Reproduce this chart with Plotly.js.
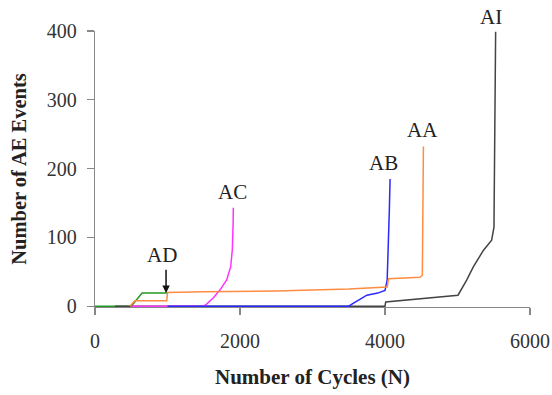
<!DOCTYPE html>
<html><head><meta charset="utf-8">
<script src="https://cdn.plot.ly/plotly-3.0.1.min.js"></script>
<style>html,body{margin:0;padding:0;background:#fff;}#chart{width:552px;height:395px;}</style>
</head><body><div id="chart"></div>
<script>
// Cycles (N) and cumulative AE event counts
const adX = [0, 500, 650, 1000];
const adY = [0, 0, 19, 19];

const aiX = [275, 4000, 4010, 4500, 5007, 5126, 5218, 5356, 5471, 5503, 5517, 5526];
const aiY = [0, 0, 6, 11, 16, 38, 57, 81, 96, 115, 290, 399];

const acX = [500, 1500, 1540, 1630, 1720, 1816, 1871, 1894, 1905, 1908];
const acY = [0, 0, 3, 12, 23, 38, 57, 82, 120, 143];

const abX = [1000, 3500, 3560, 3650, 3750, 3900, 4000, 4030, 4045, 4060, 4070];
const abY = [0, 0, 4, 10, 16, 19, 23, 38, 80, 140, 185];

const aaX = [480, 550, 990, 1000, 1500, 2500, 3500, 3950, 4030, 4050, 4480, 4515, 4520, 4525, 4530];
const aaY = [0, 8, 8, 20, 21, 22, 25, 27, 28, 40, 42, 45, 100, 150, 232];

const seriesNames = ['AD', 'AI', 'AC', 'AB', 'AA'];
const seriesColors = ['#229922', '#444444', '#ff33ff', '#2a2aff', '#ff8c42'];

// label anchors (cycles, events)
const labelText = ['AI', 'AA', 'AB', 'AC', 'AD'];
const labelX = [5462, 4524, 3986, 1903, 924];
const labelY = [420, 256, 208, 166, 74];

const xs = [adX, aiX, acX, abX, aaX];
const ys = [adY, aiY, acY, abY, aaY];
const traces = xs.map((x, i) => ({
  x: x, y: ys[i], type: 'scatter', mode: 'lines', name: seriesNames[i],
  line: {color: seriesColors[i], width: 1.5}, cliponaxis: false
}));

const serif = 'Liberation Serif, Times New Roman, serif';
const yMin = -1.2, yMax = 400;
const annotations = labelText.map((t, i) => ({
  x: labelX[i], xref: 'x',
  y: (labelY[i] - yMin) / (yMax - yMin), yref: 'paper', yanchor: 'middle', xanchor: 'center',
  text: t, showarrow: false,
  font: {family: serif, size: 21, color: '#222'}
}));
annotations.push({
  x: 980, y: 19, xref: 'x', yref: 'y',
  ax: 980, ay: 55, axref: 'x', ayref: 'y',
  text: '', showarrow: true, arrowhead: 2, arrowsize: 1, arrowwidth: 1.5, arrowcolor: '#111'
});

const layout = {
  width: 552, height: 395,
  margin: {l: 95, r: 22, t: 31, b: 88},
  paper_bgcolor: '#fff', plot_bgcolor: '#fff',
  showlegend: false,
  font: {family: serif, color: '#333'},
  xaxis: {
    range: [0, 6000], tickvals: [0, 2000, 4000, 6000], ticktext: ['0', '2000', '4000', '6000'],
    showgrid: false, zeroline: false, showline: true, linecolor: '#888', linewidth: 1.2,
    layer: 'below traces',
    ticks: 'outside', ticklen: 7, tickcolor: '#888', tickwidth: 1.2,
    tickfont: {family: serif, size: 20, color: '#333'},
    ticklabelstandoff: 9,
    title: {text: '<b>Number of Cycles (N)</b>', font: {family: serif, size: 21, color: '#222'}, standoff: 18}
  },
  yaxis: {
    range: [yMin, yMax], tickvals: [0, 100, 200, 300, 400],
    showgrid: false, zeroline: false, showline: true, linecolor: '#888', linewidth: 1.2,
    layer: 'below traces',
    ticks: 'outside', ticklen: 7, tickcolor: '#888', tickwidth: 1.2,
    tickfont: {family: serif, size: 20, color: '#333'},
    ticklabelstandoff: 6,
    title: {text: '<b>Number of AE Events</b>', font: {family: serif, size: 20.5, color: '#222'}, standoff: 14}
  },
  annotations: annotations
};

Plotly.newPlot('chart', traces, layout, {displayModeBar: false, staticPlot: true});
</script></body></html>
